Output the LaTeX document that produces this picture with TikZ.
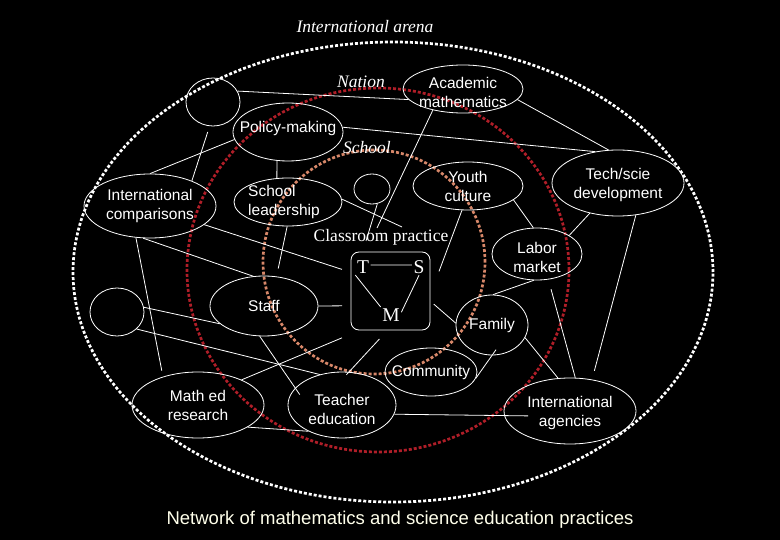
\documentclass[tikz,border=0pt]{standalone}
\usepackage{fontspec}
\setmainfont{Liberation Sans}
\newfontfamily\timesfont{Liberation Serif}
\usepackage{tikz}
\usetikzlibrary{shapes.geometric}
\usepackage{xcolor}
\definecolor{nationred}{RGB}{175,30,40}
\definecolor{schoolpink}{RGB}{215,135,105}
\definecolor{titlecream}{RGB}{255,255,235}

\begin{document}
\begin{tikzpicture}[x=1pt, y=-1pt,
    bub/.style={ellipse, draw=white, line width=0.8pt, inner sep=0pt},
    link/.style={draw=white, line width=0.8pt},
    arena/.style={dash pattern=on 3pt off 2pt, line width=2.7pt},
    every label/.append style={text=white, align=center, inner sep=0pt,
      font=\fontsize{15.5}{19}\selectfont},
    ring/.style={text=white, font=\timesfont\itshape\fontsize{17.5}{20}\selectfont},
    tsm/.style={text=white, inner sep=1.5pt, font=\timesfont\fontsize{19.5}{22}\selectfont}]

  \fill[black] (0,0) rectangle (780,540);
  \useasboundingbox (0,0) rectangle (780,540);

  \draw[arena, white] (393,272) ellipse [x radius=320pt, y radius=230pt];
  \draw[arena, nationred] (378,270) ellipse [x radius=191pt, y radius=182pt];
  \draw[arena, schoolpink] (374,262) ellipse [x radius=111pt, y radius=112pt];

  \node[ring] (arenatxt) at (365,27) {International arena};
  \node[ring] (nationtxt) at (361,82) {Nation};
  \node[ring] (schooltxt) at (367,148) {School};
  \node[text=white, font=\timesfont\fontsize{17.5}{20}\selectfont]
    (cp) at (381,237) {Classroom practice};

  \node[bub, minimum width=54pt, minimum height=48pt] (circA) at (213,102) {};
  \node[bub, minimum width=110pt, minimum height=58pt,
    label={[yshift=4pt]center:Policy-making}] (pol) at (288,132) {};
  \node[bub, minimum width=132pt, minimum height=64pt,
    label={center:International\\comparisons}] (intc) at (150,206) {};
  \node[bub, minimum width=108pt, minimum height=48pt,
    label={[xshift=-4pt, align=left]center:School\\leadership}] (lead) at (288,202) {};
  \node[bub, minimum width=36pt, minimum height=30pt] (circB) at (372,189) {};
  \node[bub, minimum width=120pt, minimum height=48pt,
    label={[yshift=-3pt]center:Academic\\mathematics}] (acad) at (463,89) {};
  \node[bub, minimum width=110pt, minimum height=48pt,
    label={center:Youth\\culture}] (youth) at (468,186) {};
  \node[bub, minimum width=132pt, minimum height=66pt,
    label={[yshift=-2pt]center:Tech/scie\\development}] (tech) at (618,183) {};
  \node[bub, minimum width=90pt, minimum height=52pt,
    label={[yshift=-3pt]center:Labor\\market}] (labor) at (537,254) {};
  \node[bub, minimum width=72pt, minimum height=60pt,
    label={center:Family}] (family) at (492,325) {};
  \node[bub, minimum width=92pt, minimum height=48pt,
    label={center:Community}] (comm) at (431,372) {};
  \node[bub, minimum width=132pt, minimum height=66pt,
    label={[yshift=-2pt]center:International\\agencies}] (agency) at (570,411) {};
  \node[bub, minimum width=54pt, minimum height=48pt] (circC) at (117,312) {};
  \node[bub, minimum width=108pt, minimum height=60pt,
    label={center:Staff}] (staff) at (264,306) {};
  \node[bub, minimum width=132pt, minimum height=66pt,
    label={center:Math ed\\research}] (mathed) at (198,405) {};
  \node[bub, minimum width=108pt, minimum height=66pt,
    label={[yshift=-4pt]center:Teacher\\education}] (teach) at (342,405) {};

  \node[draw=white, line width=0.8pt, rounded corners=8pt, minimum width=79pt,
    minimum height=78pt, outer sep=9pt] (box) at (390.5,291) {};
  \node[tsm] (T) at (363,267) {T};
  \node[tsm] (S) at (419,267) {S};
  \node[tsm] (M) at (391,315) {M};
  \draw[link] (T.15) -- (S.165);
  \draw[link] (T.south west) -- (M.north west);
  \draw[link] (S.south) -- (M.15);

  \coordinate (cpA) at (366,241);
  \coordinate (cpB) at (377,228);
  \coordinate (cpC) at (402,227);

  \draw[link] (circA.24) -- (acad.191);
  \draw[link] (pol.5) -- (tech.126);
  \draw[link] (acad.-11) -- (tech.106);
  \draw[link, shorten <=6pt] (circA.262) -- (intc.31);
  \draw[link] (pol.188) -- (intc.90);
  \draw[link] (pol.249) -- (lead.115);
  \draw[link] (intc.-19) -- (box.156);
  \draw[link] (intc.258) -- (staff.110);
  \draw[link, shorten >=6pt] (intc.246) -- (mathed.141);
  \draw[link] (lead.3) -- (cpC);
  \draw[link, shorten >=8pt] (lead.268) -- (staff.67);
  \draw[link] (circB.290) -- (cpA);
  \draw[link] (acad.215) -- (cpB);
  \draw[link] (youth.256) -- (box.22);
  \draw[link] (youth.-17) -- (labor.98);
  \draw[link] (tech.227) -- (labor.30);
  \draw[link, shorten >=9pt] (tech.299) -- (agency.55);
  \draw[link] (labor.263) -- (family.88);
  \draw[link, shorten <=10pt] (labor.294) -- (agency.81);
  \draw[link] (family.-21) -- (agency.110);
  \draw[link, shorten <=-7pt] (family.270) -- (comm.-8);
  \draw[link, shorten <=-7pt] (box.-20) -- (family.177);
  \draw[link, shorten >=-24pt] (teach.-10) -- (agency.184);
  \draw[link] (staff.0) -- (box.197);
  \draw[link, shorten >=-8pt] (staff.262) -- (teach.160);
  \draw[link] (circC.10) -- (staff.202);
  \draw[link] (circC.-41) -- (teach.126);
  \draw[link] (mathed.30) -- (box.224);
  \draw[link, shorten <=-4pt] (teach.78) -- (box.257);
  \draw[link] (mathed.-24) -- (teach.218);

  \node[text=titlecream, font=\fontsize{18.5}{22}\selectfont] (title) at (400,520)
    {Network of mathematics and science education practices};
\end{tikzpicture}
\end{document}
